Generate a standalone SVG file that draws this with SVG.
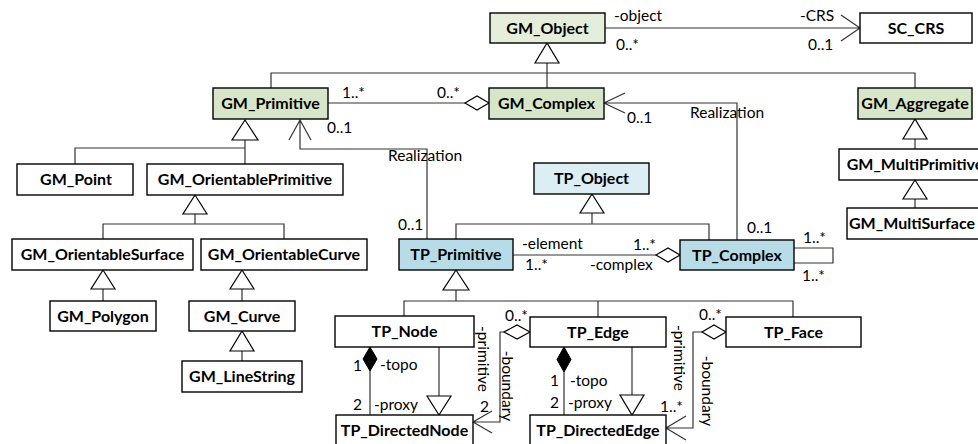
<svg xmlns="http://www.w3.org/2000/svg" width="978" height="444" viewBox="0 0 978 444">
<style>
.b{stroke:#000;stroke-width:1.4;fill:#fff}
.g1{fill:#e4eedb}
.g2{fill:#d7e6c8}
.t1{fill:#dcedf3}
.t2{fill:#b8dce7}
.n{font-family:Lato,"Liberation Sans",sans-serif;font-weight:bold;font-size:16px;text-anchor:middle;fill:#000}
.l{font-family:Lato,"Liberation Sans",sans-serif;font-size:15.5px;fill:#000}
.c{fill:none;stroke:#333;stroke-width:1.2}
.tri{fill:#fff;stroke:#000;stroke-width:1.2}
.dia{fill:#fff;stroke:#000;stroke-width:1.2}
.fd{fill:#000;stroke:#000;stroke-width:1}
</style>
<g id="connectors">
<path class="c" d="M605,28H860M841,15L860,28L841,41"/>
<path class="c" d="M547,63V88M271,88V73H915V88"/>
<polygon class="tri" points="547,43 535,63 559,63"/>
<path class="c" d="M328,103H465"/>
<polygon class="dia" points="465,103 477,96 489,103 477,110"/>
<path class="c" d="M75,164V148H245M245,140V164"/>
<polygon class="tri" points="245,120 232,140 258,140"/>
<path class="c" d="M427,239V149H300V120M289,140L300,120L311,140"/>
<path class="c" d="M195,214V224M103,239V224H284V239"/>
<polygon class="tri" points="195,195 183,214 207,214"/>
<path class="c" d="M103,289V301"/>
<polygon class="tri" points="103,270 91,289 115,289"/>
<path class="c" d="M242,289V301"/>
<polygon class="tri" points="242,270 230,289 254,289"/>
<path class="c" d="M242,351V361"/>
<polygon class="tri" points="242,331 230,351 254,351"/>
<path class="c" d="M915,139V149"/>
<polygon class="tri" points="915,119 903,139 927,139"/>
<path class="c" d="M915,199V208"/>
<polygon class="tri" points="915,180 903,199 927,199"/>
<path class="c" d="M737,240V103H604M625,93L604,103L625,113"/>
<path class="c" d="M592,213V224M456,239V224H709V240"/>
<polygon class="tri" points="592,194 580,213 604,213"/>
<path class="c" d="M513,255H656"/>
<polygon class="dia" points="656,255 668,248 680,255 668,262"/>
<path class="c" d="M794,248H833V263H794"/>
<path class="c" d="M456,290V301M404,316V301H793V317M598,301V317"/>
<polygon class="tri" points="456,270 443,290 469,290"/>
<polygon class="fd" points="370,347 377,359 370,371 363,359"/>
<path class="c" d="M370,371V415"/>
<path class="c" d="M439,347V396"/>
<polygon class="tri" points="427,396 451,396 439,415"/>
<polygon class="dia" points="530,332 517,325 504,332 517,339"/>
<path class="c" d="M504,332H500V422H473M492,411L473,422L492,433"/>
<polygon class="fd" points="564,347 571,359.5 564,372 557,359.5"/>
<path class="c" d="M564,372V415"/>
<path class="c" d="M632,347V395"/>
<polygon class="tri" points="620,395 644,395 632,415"/>
<polygon class="dia" points="726,332 714,325 702,332 714,339"/>
<path class="c" d="M702,332H693V428H666M686,416L666,428L686,440"/>
</g>
<g id="labels">
<text class="l" x="614" y="21">-object</text>
<text class="l" x="800" y="21">-CRS</text>
<text class="l" x="616" y="50">0..*</text>
<text class="l" x="808" y="50">0..1</text>
<text class="l" x="342" y="98">1..*</text>
<text class="l" x="437" y="98">0..*</text>
<text class="l" x="327" y="133">0..1</text>
<text class="l" x="388" y="161">Realization</text>
<text class="l" x="690" y="118">Realization</text>
<text class="l" x="627" y="123">0..1</text>
<text class="l" x="398" y="230">0..1</text>
<text class="l" x="747" y="233">0..1</text>
<text class="l" x="522" y="249">-element</text>
<text class="l" x="525" y="270">1..*</text>
<text class="l" x="633" y="250">1..*</text>
<text class="l" x="590" y="270">-complex</text>
<text class="l" x="803" y="243">1..*</text>
<text class="l" x="802" y="281">1..*</text>
<text class="l" x="505" y="321">0..*</text>
<text class="l" x="699" y="320">0..*</text>
<text class="l" transform="translate(484,359) rotate(90)" text-anchor="middle" dominant-baseline="central">-primitive</text>
<text class="l" transform="translate(508,386) rotate(90)" text-anchor="middle" dominant-baseline="central">-boundary</text>
<text class="l" transform="translate(680,358) rotate(90)" text-anchor="middle" dominant-baseline="central">-primitive</text>
<text class="l" transform="translate(708,391) rotate(90)" text-anchor="middle" dominant-baseline="central">-boundary</text>
<text class="l" x="480" y="412">2</text>
<text class="l" x="660" y="412">1..*</text>
<text class="l" x="353" y="371">1</text>
<text class="l" x="380" y="370">-topo</text>
<text class="l" x="353" y="410">2</text>
<text class="l" x="374" y="410">-proxy</text>
<text class="l" x="550" y="386">1</text>
<text class="l" x="570" y="386">-topo</text>
<text class="l" x="550" y="408">2</text>
<text class="l" x="568" y="408">-proxy</text>
</g>
<g id="GM_Object"><rect class="b g1" x="490" y="13" width="115" height="30"/><text class="n" x="547.5" y="33.5">GM_Object</text></g>
<g id="SC_CRS"><rect class="b" x="860" y="13" width="112" height="30"/><text class="n" x="916" y="33.5">SC_CRS</text></g>
<g id="GM_Primitive"><rect class="b g2" x="213" y="88" width="115" height="31"/><text class="n" x="270.5" y="109">GM_Primitive</text></g>
<g id="GM_Complex"><rect class="b g2" x="489" y="88" width="115" height="31"/><text class="n" x="546.5" y="109">GM_Complex</text></g>
<g id="GM_Aggregate"><rect class="b g2" x="858" y="88" width="114" height="31"/><text class="n" x="915" y="109">GM_Aggregate</text></g>
<g id="GM_Point"><rect class="b" x="17" y="164" width="116" height="31"/><text class="n" x="76" y="185">GM_Point</text></g>
<g id="GM_OrientablePrimitive"><rect class="b" x="147" y="164" width="196" height="31"/><text class="n" x="245" y="185">GM_OrientablePrimitive</text></g>
<g id="GM_MultiPrimitive"><rect class="b" x="839" y="149" width="152" height="31"/><text class="n" x="915" y="170">GM_MultiPrimitive</text></g>
<g id="GM_MultiSurface"><rect class="b" x="847" y="208" width="136" height="31"/><text class="n" x="912" y="229">GM_MultiSurface</text></g>
<g id="TP_Object"><rect class="b t1" x="534" y="163" width="115" height="31"/><text class="n" x="591.5" y="184">TP_Object</text></g>
<g id="GM_OrientableSurface"><rect class="b" x="12" y="239" width="181" height="31"/><text class="n" x="102.5" y="260">GM_OrientableSurface</text></g>
<g id="GM_OrientableCurve"><rect class="b" x="201" y="239" width="166" height="31"/><text class="n" x="284" y="260">GM_OrientableCurve</text></g>
<g id="TP_Primitive"><rect class="b t2" x="399" y="239" width="114" height="31"/><text class="n" x="456" y="260">TP_Primitive</text></g>
<g id="TP_Complex"><rect class="b t2" x="680" y="240" width="114" height="30"/><text class="n" x="737" y="260.5">TP_Complex</text></g>
<g id="GM_Polygon"><rect class="b" x="50" y="301" width="106" height="30"/><text class="n" x="103" y="321.5">GM_Polygon</text></g>
<g id="GM_Curve"><rect class="b" x="189" y="301" width="106" height="30"/><text class="n" x="242" y="321.5">GM_Curve</text></g>
<g id="GM_LineString"><rect class="b" x="182" y="361" width="120" height="31"/><text class="n" x="242" y="382">GM_LineString</text></g>
<g id="TP_Node"><rect class="b" x="335" y="316" width="139" height="31"/><text class="n" x="404.5" y="337">TP_Node</text></g>
<g id="TP_Edge"><rect class="b" x="530" y="317" width="136" height="30"/><text class="n" x="598" y="337.5">TP_Edge</text></g>
<g id="TP_Face"><rect class="b" x="726" y="317" width="135" height="30"/><text class="n" x="793.5" y="337.5">TP_Face</text></g>
<g id="TP_DirectedNode"><rect class="b" x="336" y="415" width="137" height="32"/><text class="n" x="404.5" y="436">TP_DirectedNode</text></g>
<g id="TP_DirectedEdge"><rect class="b" x="530" y="415" width="136" height="32"/><text class="n" x="598" y="436">TP_DirectedEdge</text></g>
</svg>
